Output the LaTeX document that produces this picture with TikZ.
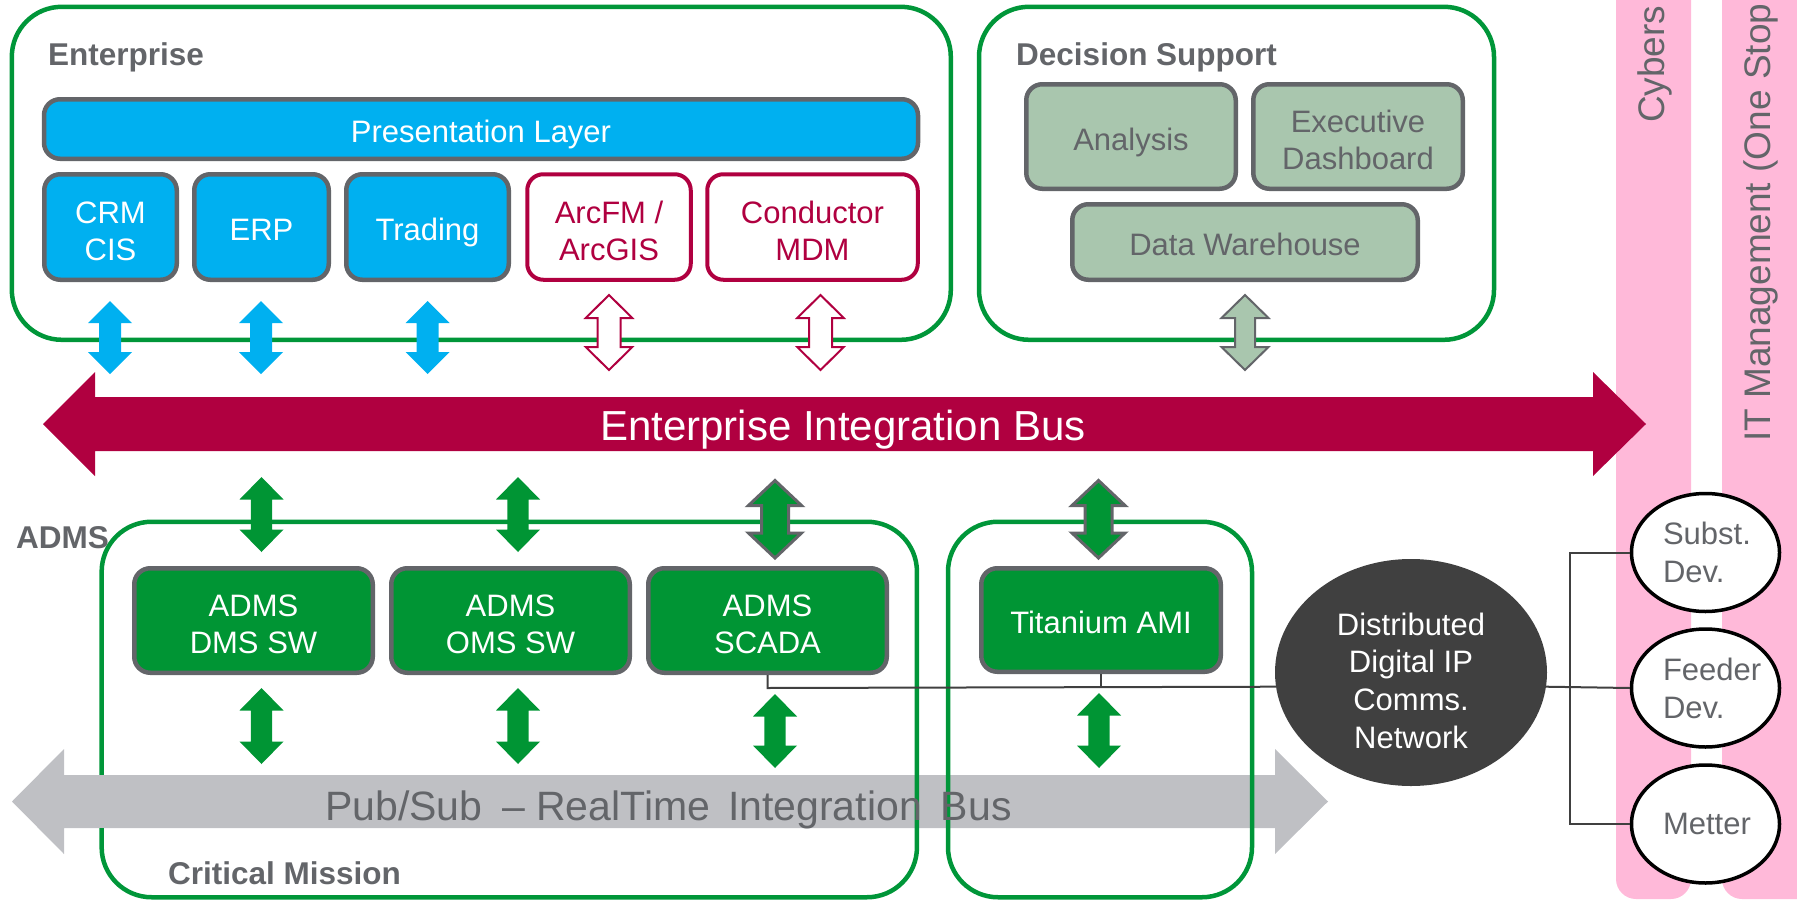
\documentclass[tikz,border=0pt]{standalone}
\usepackage{fontspec}
\setmainfont{Liberation Sans}
\usetikzlibrary{shapes.geometric}
\definecolor{entgreen}{RGB}{0,150,57}
\definecolor{admsgreen}{RGB}{0,149,52}
\definecolor{cblue}{RGB}{0,176,240}
\definecolor{crim}{RGB}{176,0,64}
\definecolor{olgray}{RGB}{99,101,105}
\definecolor{sage}{RGB}{169,198,174}
\definecolor{busgray}{RGB}{191,192,196}
\definecolor{txtgray}{RGB}{99,101,105}
\definecolor{pinkbar}{RGB}{255,185,217}
\definecolor{netgray}{RGB}{64,64,64}
% invisible struts that set the text a little lower in its box
\newcommand\toprl{\rule{0pt}{29.3pt}}
\newcommand\onerl{\rule{0pt}{27.5pt}}
% vertical double block arrow: x, ytop, ybot, head half width, shaft half width, head length, style
\newcommand\vdarr[7]{%
  \path[#7] (#1,#2) -- (#1+#4,#2+#6) -- (#1+#5,#2+#6) -- (#1+#5,#3-#6) -- (#1+#4,#3-#6)
    -- (#1,#3) -- (#1-#4,#3-#6) -- (#1-#5,#3-#6) -- (#1-#5,#2+#6) -- (#1-#4,#2+#6) -- cycle;}
\begin{document}
\begin{tikzpicture}[x=1pt,y=-1pt,
  cont/.style={draw=entgreen, line width=4.5pt, rounded corners=50pt, inner sep=0pt},
  blk/.style={line width=4.5pt, rounded corners=16pt, inner sep=0pt, align=center,
    font=\fontsize{31}{37}\selectfont},
  oneline/.style={text depth=0pt},
  bluebox/.style={blk, draw=olgray, fill=cblue, text=white},
  crimbox/.style={blk, line width=4pt, draw=crim, fill=white, text=crim},
  sagebox/.style={blk, draw=olgray, fill=sage, text=txtgray},
  greenbox/.style={blk, draw=olgray, fill=admsgreen, text=white},
  lbl/.style={inner sep=0pt, text=txtgray, font=\bfseries\fontsize{31.5}{36}\selectfont},
  vtext/.style={rotate=90, anchor=base west, inner sep=0pt, text=txtgray,
    font=\fontsize{37}{44}\selectfont},
  dev/.style={ellipse, draw=black, line width=3.5pt, fill=white, minimum width=148pt,
    minimum height=118pt, inner sep=0pt, text=txtgray, text width=85pt, align=left,
    font=\fontsize{31}{38}\selectfont},
  conn/.style={draw=netgray, line width=2pt}]
\useasboundingbox (0,0) rectangle (1797,902);
\clip (0,0) rectangle (1797,902);

% pink side bars
\fill[pinkbar, rounded corners=20pt] (1616,-40) rectangle (1691,899);
\fill[pinkbar, rounded corners=20pt] (1722,-40) rectangle (1840,899);
\node[vtext] (cyb) at (1664,123) {Cybers};
\node[vtext] (itm) at (1770,442) {IT Management (One Stop};

% Pub/Sub bus
\fill[busgray] (12,801.5) -- (64,749) -- (64,775) -- (1275,775) -- (1275,749) -- (1328,801.5)
  -- (1275,854) -- (1275,828) -- (64,828) -- (64,854) -- cycle;

% containers
\node[cont, minimum width=939pt, minimum height=333pt] (ent) at (481.3,173.3) {};
\node[cont, minimum width=515pt, minimum height=333pt] (ds) at (1236.5,173.3) {};
\node[cont, minimum width=815.3pt, minimum height=375.5pt] (crit) at (509.3,709.5) {};
\node[cont, minimum width=304pt, minimum height=375.5pt] (tit) at (1100,709.5) {};
\fill[busgray] (97,775) rectangle (107,828);

\node[inner sep=0pt, anchor=base west, text=txtgray, font=\fontsize{41}{48}\selectfont] (pst) at (325,820)
  {Pub/Sub\hspace{20pt}–\hspace{11pt}RealTime\hspace{18pt}Integration\hspace{19pt}Bus};

% labels
\node[lbl, anchor=base west] (entlbl) at (48,65) {Enterprise};
\node[lbl, anchor=base west] (dslbl) at (1016,65) {Decision Support};
\node[lbl, anchor=base west] (admslbl) at (16,548) {ADMS};
\node[lbl, anchor=base west] (critlbl) at (168,884) {Critical Mission};

% enterprise nodes
\node[bluebox, oneline, minimum width=874pt, minimum height=59.5pt] (pres) at (481,129) {\onerl Presentation Layer};
\node[bluebox, minimum width=132.5pt, minimum height=105.5pt] (crm) at (110.5,227) {\toprl CRM\\CIS};
\node[bluebox, oneline, minimum width=134.5pt, minimum height=105.5pt] (erp) at (261.5,227) {\onerl ERP};
\node[bluebox, oneline, minimum width=162.5pt, minimum height=105.5pt] (trading) at (427.5,227) {\onerl Trading};
\node[crimbox, minimum width=163.5pt, minimum height=105.5pt] (arcfm) at (609,227) {\toprl ArcFM /\\ArcGIS};
\node[crimbox, minimum width=210.5pt, minimum height=105.5pt] (cond) at (812.5,227) {\toprl Conductor\\MDM};

% decision support nodes
\node[sagebox, oneline, minimum width=209.5pt, minimum height=104.5pt] (analysis) at (1131,136.5) {\onerl Analysis};
\node[sagebox, minimum width=209.5pt, minimum height=104.5pt] (exec) at (1358,136.5) {\toprl Executive\\Dashboard};
\node[sagebox, oneline, minimum width=345.5pt, minimum height=75.5pt] (dw) at (1245,242) {\onerl Data Warehouse};

% ADMS nodes
\node[greenbox, minimum width=238.5pt, minimum height=104.5pt] (dms) at (253.5,620.5) {\toprl ADMS\\DMS SW};
\node[greenbox, minimum width=238.5pt, minimum height=104.5pt] (oms) at (510.5,620.5) {\toprl ADMS\\OMS SW};
\node[greenbox, minimum width=238.5pt, minimum height=104.5pt] (scada) at (767.5,620.5) {\toprl ADMS\\SCADA};
\node[greenbox, oneline, minimum width=239.5pt, minimum height=103.5pt] (ami) at (1101,620) {\onerl Titanium AMI};

% Enterprise Integration Bus
\fill[crim] (43,424) -- (95,372) -- (95,397) -- (1593,397) -- (1593,372) -- (1646,424)
  -- (1593,476) -- (1593,451) -- (95,451) -- (95,476) -- cycle;
\node[inner sep=0pt, anchor=base west, text=white, font=\fontsize{42}{48}\selectfont] (eib) at (600,440)
  {Enterprise Integration Bus};

% arrows to the enterprise bus
\vdarr{110}{301}{374}{22}{11}{22}{fill=cblue}
\vdarr{261}{301}{374}{22}{11}{22}{fill=cblue}
\vdarr{427.5}{301}{374}{22}{11}{22}{fill=cblue}
\vdarr{609}{295}{370}{23.3}{11.5}{23}{fill=white, draw=crim, line width=2pt}
\vdarr{820.5}{295}{370}{23.3}{11.5}{23}{fill=white, draw=crim, line width=2pt}
\vdarr{1245}{295}{370}{23.5}{10}{23}{fill=sage, draw=olgray, line width=2pt}
% arrows between enterprise bus and ADMS
\vdarr{261.5}{477}{552}{22}{10.7}{22.5}{fill=admsgreen}
\vdarr{518}{477}{552}{22}{10.7}{22.5}{fill=admsgreen}
\vdarr{775}{480.5}{558}{26.5}{13.5}{25}{fill=admsgreen, draw=olgray, line width=3pt}
\vdarr{1098.5}{480.5}{558}{26.5}{13.5}{25}{fill=admsgreen, draw=olgray, line width=3pt}
% arrows to pub/sub bus
\vdarr{261.5}{688}{764}{22}{10.7}{22.5}{fill=admsgreen}
\vdarr{518}{688}{764}{22}{10.7}{22.5}{fill=admsgreen}
\vdarr{775}{694}{768}{22}{10.7}{22.5}{fill=admsgreen}
\vdarr{1099}{693}{768}{22}{10.7}{22.5}{fill=admsgreen}

% network
\node[ellipse, fill=netgray, minimum width=272pt, minimum height=227pt, inner sep=0pt] (net) at (1411,672.5) {};
\node[inner sep=0pt, align=center, text=white, font=\fontsize{31}{37.7}\selectfont] (nettxt) at (1411,680.5)
  {Distributed\\Digital IP\\Comms.\\Network};

% devices
\node[dev] (subst) at (1705.5,552.5) {Subst.\\Dev.};
\node[dev] (feeder) at (1705.5,688) {Feeder\\Dev.};
\node[dev] (metter) at (1705.5,824) {Metter};

% connectors
\coordinate (j) at (767.5,688);
\coordinate (hub) at (1570,688);
\draw[conn] (scada.south) -- (j) -- (net.186.5);
\draw[conn] (ami.south) -- (ami.south |- j);
\draw[conn] (net.-6.5) -- (feeder.west);
\draw[conn] (subst.west) -| (hub) |- (metter.west);
\end{tikzpicture}
\end{document}
